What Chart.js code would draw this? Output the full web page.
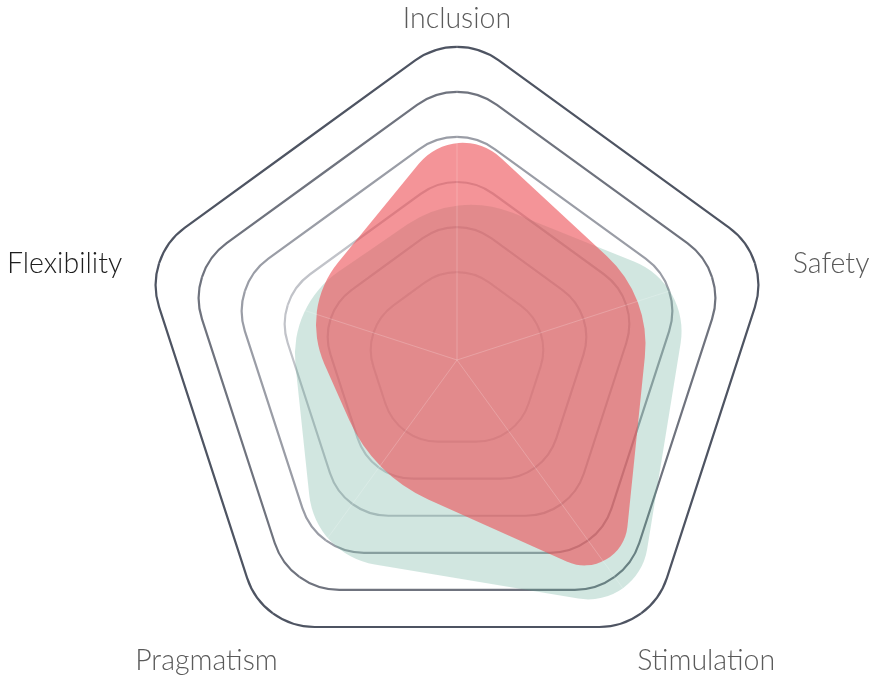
<!DOCTYPE html>
<html>
<head>
<meta charset="utf-8">
<title>Radar</title>
<script src="https://cdn.jsdelivr.net/npm/chart.js@4.4.1/dist/chart.umd.min.js"></script>
<style>
  html, body { margin: 0; padding: 0; background: #fff; overflow: hidden; }
  #wrap { width: 876px; height: 690px; position: relative; }
</style>
</head>
<body>
<div id="wrap"><canvas id="radar"></canvas></div>
<script>
// axes, clockwise from the top
const categories = ['Inclusion', 'Safety', 'Stimulation', 'Pragmatism', 'Flexibility'];
// the two profiles
const redValues = [5.1, 4.25, 5.9, 2.9, 3.4];
const greenValues = [3.5, 5.15, 6.5, 5.05, 3.65];
// grid rings that are drawn
const ringValues = [2, 3, 4, 5, 6, 7];

// styles
const ringColors = ['#d6d7dc', '#cacbd1', '#c1c3c9', '#9a9da6', '#6f737e', '#4e5462'];
const labelColors = ['#5a5a5a', '#5a5a5a', '#5a5a5a', '#5a5a5a', '#1e1e1e'];
const labelFont = '300 28.5px Lato';

// polygon with arcs on each corner.
// tangent: how far along each edge the arc starts; radius: fixed arc radius instead
function roundedPath(ctx, pts, tangent, radius) {
    const n = pts.length;
    const d = (a, b) => Math.hypot(a.x - b.x, a.y - b.y);
    ctx.beginPath();
    ctx.moveTo((pts[n - 1].x + pts[0].x) / 2, (pts[n - 1].y + pts[0].y) / 2);
    for (let i = 0; i < n; i++) {
        const p = pts[i];
        const prev = pts[(i - 1 + n) % n];
        const next = pts[(i + 1) % n];
        const a1 = Math.atan2(prev.y - p.y, prev.x - p.x);
        const a2 = Math.atan2(next.y - p.y, next.x - p.x);
        let ang = Math.abs(a1 - a2);
        if (ang > Math.PI) ang = 2 * Math.PI - ang;
        const h = ang / 2;
        const maxT = 0.5 * Math.min(d(p, prev), d(p, next));
        let r = radius ? radius : tangent * Math.tan(h);
        r = Math.min(r, maxT * Math.tan(h));
        ctx.arcTo(p.x, p.y, next.x, next.y, r);
    }
    ctx.closePath();
}

const roundedRadar = {
    id: 'roundedRadar',
    beforeDatasetsDraw(chart) {
        const scale = chart.scales.r;
        const ctx = chart.ctx;
        ringValues.forEach((v, k) => {
            const pts = categories.map((_, i) => scale.getPointPositionForValue(i, v));
            const dist = scale.getDistanceFromCenterForValue(v);
            ctx.save();
            roundedPath(ctx, pts, 0, 48 + 0.07 * dist);
            ctx.strokeStyle = ringColors[k];
            ctx.lineWidth = 2.2;
            ctx.stroke();
            ctx.restore();
        });
    },
    beforeDatasetDraw() {
        return false; // drawn below with rounded corners
    },
    afterDatasetsDraw(chart) {
        const scale = chart.scales.r;
        const ctx = chart.ctx;
        for (let k = chart.data.datasets.length - 1; k >= 0; k--) {
            const ds = chart.data.datasets[k];
            const pts = chart.getDatasetMeta(k).data.map(p => ({ x: p.x, y: p.y }));
            ctx.save();
            roundedPath(ctx, pts, ds.cornerTangent);
            ctx.fillStyle = ds.backgroundColor;
            ctx.fill();
            ctx.restore();
        }

        // faint spokes on top
        ctx.save();
        ctx.strokeStyle = 'rgba(255,255,255,0.2)';
        ctx.lineWidth = 1;
        categories.forEach((_, i) => {
            const p = scale.getPointPosition(i, scale.drawingArea);
            ctx.beginPath();
            ctx.moveTo(scale.xCenter, scale.yCenter);
            ctx.lineTo(p.x, p.y);
            ctx.stroke();
        });
        ctx.restore();

        // axis names
        ctx.save();
        ctx.font = labelFont;
        ctx.textAlign = 'center';
        ctx.textBaseline = 'middle';
        chart.data.labels.forEach((label, i) => {
            const p = scale.getPointPosition(i, scale.drawingArea + 25);
            const w = ctx.measureText(label).width;
            const a = scale.getIndexAngle(i);
            ctx.fillStyle = labelColors[i];
            ctx.fillText(label, p.x + Math.sin(a) * w / 2, p.y + 14);
        });
        ctx.restore();
    }
};

const canvas = document.getElementById('radar');
const myChart = new Chart(canvas, {
    type: 'radar',
    data: {
        labels: categories,
        datasets: [{
            label: 'Profile A',
            data: redValues,
            backgroundColor: 'rgba(237, 82, 88, 0.62)',
            cornerTangent: 60,
            fill: false,
            borderWidth: 0,
            pointRadius: 0
        }, {
            label: 'Profile B',
            data: greenValues,
            backgroundColor: 'rgba(88, 164, 143, 0.28)',
            cornerTangent: 60,
            fill: false,
            borderWidth: 0,
            pointRadius: 0
        }]
    },
    options: {
        responsive: true,
        maintainAspectRatio: false,
        animation: false,
        layout: {
            padding: { top: 30, bottom: 0, left: 38, right: 0 }
        },
        plugins: {
            legend: { display: false },
            tooltip: { enabled: false }
        },
        scales: {
            r: {
                min: -0.2,
                max: 7,
                grid: { display: false },
                angleLines: { display: false },
                ticks: { display: false },
                pointLabels: { display: false }
            }
        }
    },
    plugins: [roundedRadar]
});
</script>
</body>
</html>
